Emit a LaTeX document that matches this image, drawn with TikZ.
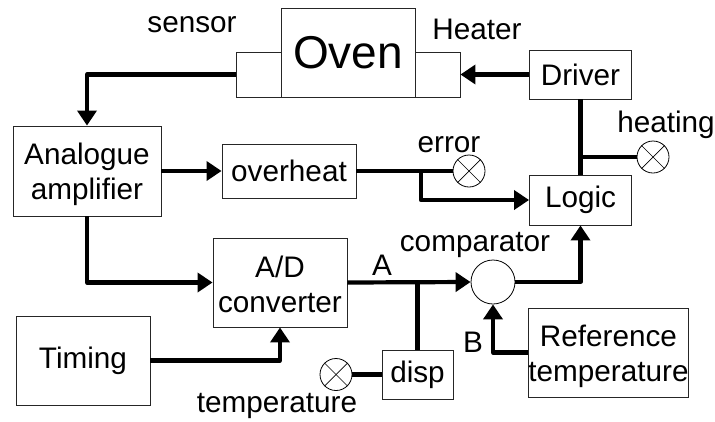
\documentclass[tikz,border=0pt]{standalone}
\usepackage{fontspec}
\setmainfont{Liberation Sans}
\usetikzlibrary{arrows.meta}
\tikzset{
  x=1pt,y=-1pt,
  blockbox/.style={draw=black!85,line width=0.9pt,inner sep=0pt,align=center,font=\fontsize{29.7}{35}\selectfont,fill=white},
  lamp/.style={draw=black,line width=0.8pt,circle,inner sep=0pt,minimum size=32pt,fill=white},
  wire/.style={line width=4.2pt,line join=round,black},
  flow/.style={wire,-{Triangle[length=15pt,width=19pt]}},
  cross/.style={line width=0.7pt,black},
  lbl/.style={inner sep=0pt,font=\fontsize{29.7}{35}\selectfont}
}
\newcommand{\blk}[6]{\node[blockbox,minimum width=#4pt,minimum height=#5pt] (#1) at (#2,#3) {#6};}
\newcommand{\lowered}[2]{\raisebox{-#1pt}[\height][\depth]{#2}}
\begin{document}
\begin{tikzpicture}
\useasboundingbox (0,0) rectangle (715,421);
\blk{sensor}{258.5}{74.5}{45}{45}{}
\blk{heater}{437.5}{74.5}{45}{45}{}
\node[blockbox,minimum width=134pt,minimum height=89pt,font=\fontsize{46}{52}\selectfont] (oven) at (348,52.5) {Oven};
\blk{amp}{87}{171}{148}{90}{\lowered{3}{Analogue}\\\lowered{3}{amplifier}}
\blk{over}{289}{171}{134}{54}{overheat}
\blk{driver}{580.5}{74.5}{102}{49}{Driver}
\blk{logic}{580.5}{200}{102}{50}{Logic}
\blk{adc}{280}{282.5}{134}{89}{\lowered{2}{A/D}\\\lowered{2}{converter}}
\blk{timing}{83}{360.5}{134}{89}{Timing}
\blk{disp}{417.5}{374.5}{71}{49}{disp}
\blk{ref}{608.5}{352.5}{159}{89}{\lowered{4}{Reference}\\\lowered{4}{temperature}}
\node[draw=black,line width=0.8pt,circle,inner sep=0pt,minimum size=44pt,fill=white] (comp) at (493,282) {};
\node[lamp] (lerr) at (469,171) {};
\node[lamp] (lheat) at (653,157) {};
\node[lamp] (ltemp) at (336,374.5) {};
\foreach \n in {lerr,lheat,ltemp}{
  \draw[cross] (\n.north west) -- (\n.south east);
  \draw[cross] (\n.north east) -- (\n.south west);
}
\coordinate (jerr) at (421,171);
\coordinate (jheat) at (580.5,157);
\coordinate (jdisp) at (417.5,282);
\draw[flow] (sensor.west) -| (amp.north);
\draw[flow] (amp.east) -- (over.west);
\draw[wire] (over.east) -- (lerr.west);
\draw[flow] (jerr) |- (logic.west);
\draw[flow] (driver.west) -- (heater.east);
\draw[wire] (driver.south) -- (logic.north);
\draw[wire] (jheat) -- (lheat.west);
\draw[flow] (amp.south) |- (adc.west);
\draw[flow] (adc.east) -- (comp.west);
\draw[wire] (jdisp) -- (disp.north);
\draw[wire] (disp.west) -- (ltemp.east);
\draw[flow] (timing.east) -| (adc.south);
\draw[flow] (comp.east) -| (logic.south);
\draw[flow] (ref.west) -| (comp.south);
\node[lbl] (tsensor) at (192,25) {sensor};
\node[lbl] (theater) at (477,29) {Heater};
\node[lbl] (terror) at (449,145) {error};
\node[lbl] (theating) at (666,125) {heating};
\node[lbl] (tcomp) at (475,245) {comparator};
\node[lbl] (ta) at (382,265) {A};
\node[lbl] (tb) at (473,342) {B};
\node[lbl] (ttemp) at (277,406) {temperature};
\end{tikzpicture}
\end{document}
